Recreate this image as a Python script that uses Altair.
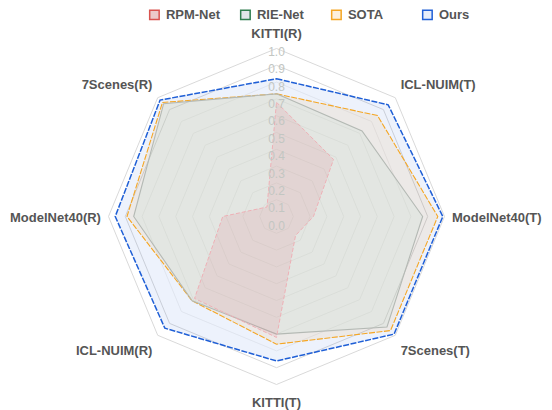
import altair as alt
import pandas as pd

# ---------------- data ----------------
categories = ["KITTI(R)", "ICL-NUIM(T)", "ModelNet40(T)", "7Scenes(T)",
              "KITTI(T)", "ICL-NUIM(R)", "ModelNet40(R)", "7Scenes(R)"]
series_names = ["RPM-Net", "RIE-Net", "SOTA", "Ours"]
rpm_net = [0.68, 0.48, 0.22, 0.16, 0.72, 0.69, 0.32, 0.08]
rie_net = [0.73, 0.72, 0.87, 0.93, 0.70, 0.71, 0.85, 0.95]
sota = [0.73, 0.85, 0.96, 0.96, 0.76, 0.71, 0.89, 0.96]
ours = [0.82, 0.94, 0.99, 0.99, 0.86, 0.94, 0.96, 0.98]
tick_values = [0.0, 0.1, 0.2, 0.3, 0.4, 0.5, 0.6, 0.7, 0.8, 0.9, 1.0]
tick_labels = ["0.0", "0.1", "0.2", "0.3", "0.4", "0.5", "0.6", "0.7", "0.8", "0.9", "1.0"]

series_values = {"RPM-Net": rpm_net, "RIE-Net": rie_net, "SOTA": sota, "Ours": ours}
N = len(categories)

rows = []
for s in series_names:
    for i, v in enumerate(series_values[s]):
        rows.append({"series": s, "idx": i, "axis": categories[i], "value": v})
df = pd.DataFrame(rows)

ring_df = pd.DataFrame([{"level": lv, "idx": i} for lv in tick_values[1:] for i in range(N)])
cat_df = pd.DataFrame({"idx": list(range(N)), "axis": categories})
tick_df = pd.DataFrame({"v": tick_values, "label": tick_labels})
legend_df = pd.DataFrame({"series": series_names})

# ---------------- styles ----------------
FONT = "Liberation Sans"
UNIT = 168.0
xdom = [-1.56, 1.56]
ydom = [-1.16, 1.12]
W = (xdom[1] - xdom[0]) * UNIT
H = (ydom[1] - ydom[0]) * UNIT
PAD_L = 268.5 - (-xdom[0]) * UNIT
PAD_T = 208.5 - ydom[1] * UNIT
PAD_R = max(0.0, 536 - PAD_L - W)

xs = alt.Scale(domain=xdom, nice=False, zero=False)
ys = alt.Scale(domain=ydom, nice=False, zero=False)

ANG = "datum.idx * 2 * PI / %d" % N


def xy(chart, rfield):
    return chart.transform_calculate(
        px="%s * sin(%s)" % (rfield, ANG),
        py="%s * cos(%s)" % (rfield, ANG),
    ).encode(
        x=alt.X("px:Q", scale=xs, axis=None),
        y=alt.Y("py:Q", scale=ys, axis=None),
    )


layers = []

# rings (under fills)
outer = xy(alt.Chart(ring_df).transform_filter("datum.level >= 0.85")
           .mark_line(interpolate="linear-closed", stroke="#d9d9d9", strokeWidth=1),
           "datum.level").encode(order="idx:Q", detail="level:N")
layers.append(outer)
inner_under = xy(alt.Chart(ring_df).transform_filter("datum.level < 0.85")
                 .mark_line(interpolate="linear-closed", stroke="#f1f1f1", strokeWidth=1),
                 "datum.level").encode(order="idx:Q", detail="level:N")
layers.append(inner_under)

styles = {
    "Ours": dict(stroke="#1f5fd6", fill="#1f5fd6", fillOpacity=0.08, strokeWidth=1.5, strokeDash=[6, 1.5]),
    "SOTA": dict(stroke="#f5a623", fill="#f0a030", fillOpacity=0.10, strokeWidth=1.1, strokeDash=[6, 1.5]),
    "RIE-Net": dict(stroke="#b4b9b4", fill="#c8e0d2", fillOpacity=0.25, strokeWidth=1.1),
    "RPM-Net": dict(stroke="#eeb0b6", fill="#e07080", fillOpacity=0.15, strokeWidth=1.0, strokeDash=[4, 2]),
}
for s in ["Ours", "SOTA", "RIE-Net", "RPM-Net"]:
    poly = xy(alt.Chart(df).transform_filter(alt.datum.series == s)
              .mark_line(interpolate="linear-closed", **styles[s]),
              "datum.value").encode(order="idx:Q")
    layers.append(poly)

# tick labels along the top axis
ticks = alt.Chart(tick_df).transform_calculate(
    px="0", py="datum.v * 1.035 - 0.055"
).mark_text(font=FONT, fontSize=12, color="#c2c6c2", align="center", baseline="middle").encode(
    x=alt.X("px:Q", scale=xs, axis=None),
    y=alt.Y("py:Q", scale=ys, axis=None),
    text="label:N",
)
layers.append(ticks)

# category labels
label_style = {
    0: ("center", "bottom", 0),
    1: ("left", "bottom", 0),
    2: ("left", "middle", 2),
    3: ("left", "top", 4),
    4: ("center", "top", 5),
    5: ("right", "top", 4),
    6: ("right", "middle", 2),
    7: ("right", "bottom", 0),
}
for i in range(N):
    al, bl, dy = label_style[i]
    lab = xy(alt.Chart(cat_df).transform_filter(alt.datum.idx == i)
             .mark_text(font=FONT, fontSize=13, fontWeight="bold", color="#555555",
                        align=al, baseline=bl, dy=dy),
             "1.045").encode(text="axis:N")
    layers.append(lab)

# legend (driven by explicit scale domains)
legend_fill = ["#ecc9c9", "#dfe5ea", "#fdf0dc", "#e6edfa"]
legend_stroke = ["#d9534f", "#2e7d4f", "#f5a623", "#1f5fd6"]
leg = alt.Legend(title=None, orient="none", legendX=133.5, legendY=-PAD_T,
                 direction="horizontal", columns=4, gridAlign="all", columnPadding=16,
                 labelFont=FONT, labelFontSize=13, labelFontWeight="bold", labelColor="#555555",
                 symbolType="square", symbolSize=90, symbolStrokeWidth=1.5, labelOffset=5)
legend_layer = alt.Chart(legend_df).transform_filter("false").mark_square(
    size=90, opacity=1, strokeWidth=1.5, filled=True
).encode(
    fill=alt.Fill("series:N", scale=alt.Scale(domain=series_names, range=legend_fill), legend=leg),
    stroke=alt.Stroke("series:N", scale=alt.Scale(domain=series_names, range=legend_stroke), legend=leg),
)
layers.append(legend_layer)

chart = alt.layer(*layers).properties(
    width=W, height=H,
    autosize=alt.AutoSizeParams(type="none"),
    padding={"left": PAD_L, "top": PAD_T, "right": PAD_R, "bottom": 0},
    background="white",
).configure_view(stroke=None)

chart.save("out.html", embed_options={"renderer": "svg", "actions": False})
